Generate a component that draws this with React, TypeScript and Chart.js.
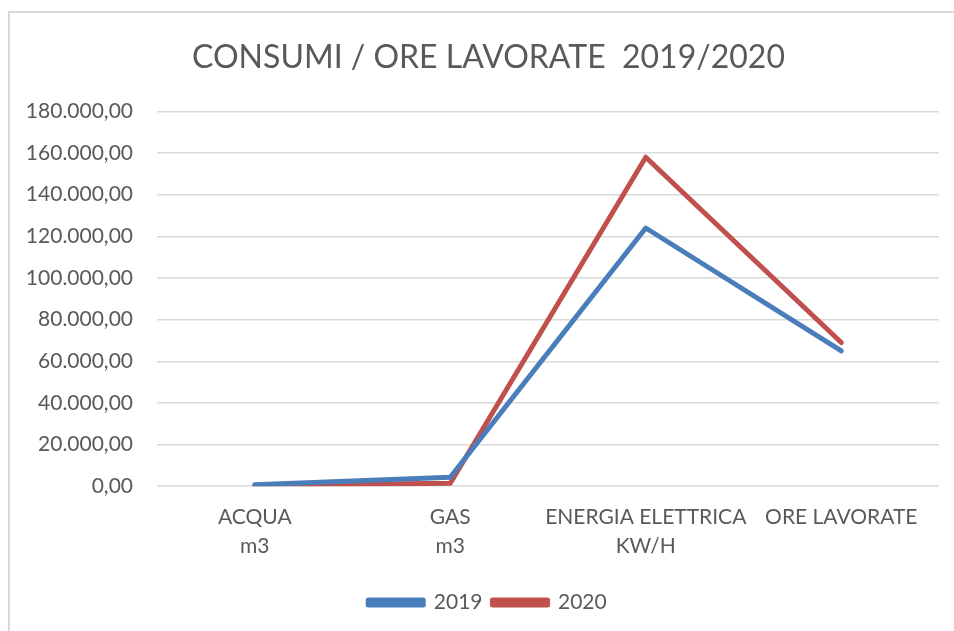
import React, { useEffect, useRef } from "react";
import { Chart, registerables } from "chart.js";

Chart.register(...registerables);

const categories: (string | string[])[] = [
  ["ACQUA", "m3"],
  ["GAS", "m3"],
  ["ENERGIA ELETTRICA", "KW/H"],
  "ORE LAVORATE",
];
const values2019 = [700, 4300, 124000, 65000];
const values2020 = [400, 1400, 158000, 69000];
const seriesNames = ["2019", "2020"];
const titleText = "CONSUMI / ORE LAVORATE  2019/2020";
const yMin = 0;
const yMax = 180000;
const yStep = 20000;

const FONT = "Lato, 'Open Sans', sans-serif";
const TEXT = "#595959";

function fmt(v: number): string {
  const neg = v < 0;
  const n = Math.abs(v);
  const intPart = Math.floor(n).toString().replace(/\B(?=(\d{3})+(?!\d))/g, ".");
  const dec = Math.round((n - Math.floor(n)) * 100)
    .toString()
    .padStart(2, "0");
  return (neg ? "-" : "") + intPart + "," + dec;
}

const boxShift = {
  id: "boxShift",
  afterLayout(chart: any) {
    const lg = chart.legend;
    if (lg) {
      lg.left += 18;
      lg.right += 18;
      lg.top += 5;
      lg.bottom += 5;
    }
    const tb = chart.titleBlock;
    if (tb) {
      tb.left += 19;
      tb.right += 19;
    }
  },
};

export default function App() {
  const ref = useRef<HTMLCanvasElement>(null);
  useEffect(() => {
    if (!ref.current) return;
    const chart = new Chart(ref.current, {
      type: "line",
      data: {
        labels: categories,
        datasets: [
          {
            label: seriesNames[0],
            data: values2019,
            borderColor: "#4a7ebb",
            backgroundColor: "#4a7ebb",
            borderWidth: 5,
            pointRadius: 0,
            tension: 0,
            borderCapStyle: "round",
            borderJoinStyle: "round",
          },
          {
            label: seriesNames[1],
            data: values2020,
            borderColor: "#c0504d",
            backgroundColor: "#c0504d",
            borderWidth: 5,
            pointRadius: 0,
            tension: 0,
            borderCapStyle: "round",
            borderJoinStyle: "round",
          },
        ],
      },
      options: {
        animation: false,
        responsive: false,
        maintainAspectRatio: false,
        layout: { padding: { top: 24, right: 15, left: 0, bottom: 13 } },
        plugins: {
          title: {
            display: true,
            text: titleText,
            color: TEXT,
            font: { family: FONT, size: 32, weight: "normal" },
            padding: { top: 14, bottom: 35 },
          },
          legend: {
            position: "bottom",
            labels: {
              color: TEXT,
              font: { family: FONT, size: 21 },
              boxWidth: 55,
              boxHeight: 5,
              padding: 10,
            },
          },
          tooltip: { enabled: false },
        },
        scales: {
          x: {
            offset: true,
            grid: { display: false, drawTicks: false },
            border: { display: false },
            ticks: {
              color: TEXT,
              font: { family: FONT, size: 21, lineHeight: 1.4 },
              padding: 16,
              maxRotation: 0,
              autoSkip: false,
            },
          },
          y: {
            min: yMin,
            max: yMax,
            grid: { color: "#d9d9d9", lineWidth: 1.5, drawTicks: false },
            border: { display: false },
            afterFit: (s: any) => {
              s.width = 157;
            },
            ticks: {
              stepSize: yStep,
              color: TEXT,
              font: { family: FONT, size: 21 },
              padding: 24,
              callback: (v: any) => fmt(Number(v)),
            },
          },
        },
      },
      plugins: [boxShift],
    });
    return () => chart.destroy();
  }, []);
  return (
    <div style={{ position: "fixed", left: 0, top: 0, width: 954, height: 631, overflow: "hidden", background: "#fff" }}>
      <div
        style={{
          position: "absolute",
          left: 8,
          top: 11,
          width: 1000,
          height: 700,
          border: "2px solid #d9d9d9",
        }}
      />
      <canvas ref={ref} width={954} height={631} style={{ position: "absolute", left: 0, top: 0, width: 954, height: 631 }} />
    </div>
  );
}
